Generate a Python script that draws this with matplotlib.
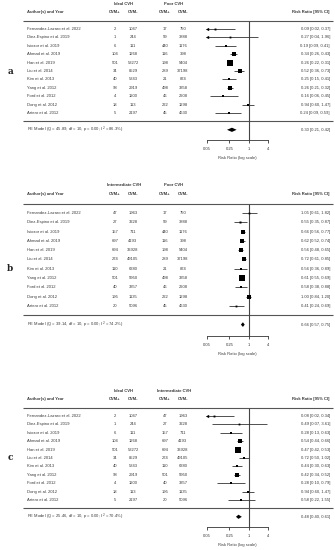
import numpy as np
import matplotlib.pyplot as plt

studies = ["Fernandez-Lazaro et al. 2022", "Diez-Espino et al. 2019", "Isiozor et al. 2019",
           "Ahmad et al. 2019", "Han et al. 2019", "Liu et al. 2014", "Kim et al. 2013",
           "Yang et al. 2012", "Ford et al. 2012", "Dong et al. 2012", "Artero et al. 2012"]

ideal_pos = [2, 1, 6, 104, 501, 34, 40, 98, 4, 18, 5]
ideal_neg = [1047, 244, 111, 1268, 53272, 8529, 5343, 2919, 1200, 113, 2197]
inter_pos = [47, 27, 157, 697, 694, 274, 110, 501, 40, 195, 20]
inter_neg = [1963, 3228, 711, 4193, 33928, 49105, 6380, 5950, 3357, 1135, 5096]
poor_pos = [17, 59, 440, 116, 198, 289, 21, 498, 46, 222, 45]
poor_neg = [750, 3888, 1176, 398, 5404, 37198, 874, 3358, 2208, 1298, 4630]

# ideal vs poor
rr_a = [0.09, 0.27, 0.19, 0.34, 0.26, 0.52, 0.25, 0.26, 0.16, 0.94, 0.24]
lo_a = [0.02, 0.04, 0.09, 0.26, 0.22, 0.36, 0.15, 0.21, 0.06, 0.60, 0.09]
hi_a = [0.37, 1.96, 0.41, 0.43, 0.31, 0.73, 0.41, 0.32, 0.45, 1.47, 0.59]
re_a = [0.30, 0.21, 0.42]
het_a = ["45.89", "86.3"]

# intermediate vs poor
rr_b = [1.05, 0.55, 0.66, 0.62, 0.56, 0.72, 0.56, 0.61, 0.58, 1.00, 0.41]
lo_b = [0.61, 0.35, 0.56, 0.52, 0.48, 0.61, 0.36, 0.55, 0.38, 0.84, 0.24]
hi_b = [1.82, 0.87, 0.77, 0.74, 0.65, 0.85, 0.89, 0.69, 0.88, 1.20, 0.69]
re_b = [0.66, 0.57, 0.75]
het_b = ["39.14", "74.2"]

# ideal vs intermediate
rr_c = [0.08, 0.49, 0.28, 0.54, 0.47, 0.72, 0.44, 0.42, 0.28, 0.94, 0.58]
lo_c = [0.02, 0.07, 0.13, 0.44, 0.42, 0.50, 0.30, 0.34, 0.10, 0.60, 0.22]
hi_c = [0.34, 3.61, 0.63, 0.66, 0.53, 1.02, 0.63, 0.52, 0.79, 1.47, 1.55]
re_c = [0.48, 0.40, 0.61]
het_c = ["25.46", "70.4"]

ticks = [0.05, 0.25, 1, 4]
tick_labels = ["0.05", "0.25", "1", "4"]

panels = [
    ("a", "Ideal CVH", "Poor CVH", ideal_pos, ideal_neg, poor_pos, poor_neg, rr_a, lo_a, hi_a, re_a, het_a, 29, 113, 6),
    ("b", "Intermediate CVH", "Poor CVH", inter_pos, inter_neg, poor_pos, poor_neg, rr_b, lo_b, hi_b, re_b, het_b, 213, 306, 5),
    ("c", "Ideal CVH", "Intermediate CVH", ideal_pos, ideal_neg, inter_pos, inter_neg, rr_c, lo_c, hi_c, re_c, het_c, 416, 500, 6),
]

plt.rcParams["font.family"] = ["Liberation Sans", "DejaVu Sans"]
W, H = 335, 550
fig = plt.figure(figsize=(3.35, 5.5), dpi=100)
fs = 3.0
tc = "#3a3a3a"
ytop, ybot = 14.5, -5.5
xlo, xhi = 0.05, 4

for (lab, g1, g2, p1, n1, p2, n2, rr, lo, hi, re, het, py11, py1, laby) in panels:
    s = (py1 - py11) / 10
    top_px = py11 - (ytop - 11) * s
    bot_px = py1 + (1 - ybot) * s
    pos = [0, 1 - bot_px / H, 1, (bot_px - top_px) / H]
    ax = fig.add_axes(pos)
    ax.set_xlim(0, W)
    ax.set_ylim(ybot, ytop)
    ax.axis("off")

    fx = fig.add_axes([207 / W, pos[1], (268 - 207) / W, pos[3]], sharey=ax)
    fx.set_xscale("log")
    fx.set_xlim(xlo, xhi)
    fx.patch.set_alpha(0)
    for sp in ["top", "right", "left"]:
        fx.spines[sp].set_visible(False)
    fx.spines["bottom"].set_position(("data", -2.2))
    fx.spines["bottom"].set_linewidth(0.6)
    fx.spines["bottom"].set_color("#333333")
    fx.set_yticks([])
    fx.set_xticks(ticks)
    fx.set_xticklabels(tick_labels)
    fx.minorticks_off()
    fx.tick_params(axis="x", length=2.5, width=0.6, pad=2.5, labelsize=fs, colors="#333333")
    fx.set_xlabel("Risk Ratio (log scale)", fontsize=fs, color=tc, labelpad=4)

    # header
    hd = dict(fontsize=fs, color=tc, va="center", fontweight="bold")
    ax.text(27, 13, "Author(s) and Year", ha="left", **hd)
    ax.text(124, 14, g1, ha="center", **hd)
    ax.text(174, 14, g2, ha="center", **hd)
    for xc in [115, 165]:
        ax.text(xc, 13, "CVM+", ha="center", **hd)
    for xc in [133, 183]:
        ax.text(xc, 13, "CVM-", ha="center", **hd)
    ax.text(330, 13, "Risk Ratio [95% CI]", ha="right", **hd)
    ax.hlines([12, 0], 23, 333, color="#555555", lw=0.8)

    fx.vlines(1, -2.2, 12, color="#444444", lw=0.8, zorder=1)

    rr = np.array(rr)
    lo = np.array(lo)
    hi = np.array(hi)
    se = (np.log(hi) - np.log(lo)) / 3.92
    w = 1 / se
    psize = 0.5 + (w - w.min()) / (w.max() - w.min())
    ys = np.arange(11, 0, -1)

    for i, y in enumerate(ys):
        ax.text(27, y, studies[i], fontsize=fs, color=tc, va="center", ha="left")
        ax.text(115, y, str(p1[i]), fontsize=fs, color=tc, va="center", ha="center")
        ax.text(133, y, str(n1[i]), fontsize=fs, color=tc, va="center", ha="center")
        ax.text(165, y, str(p2[i]), fontsize=fs, color=tc, va="center", ha="center")
        ax.text(183, y, str(n2[i]), fontsize=fs, color=tc, va="center", ha="center")
        ax.text(330, y, f"{rr[i]:.2f} [{lo[i]:.2f}, {hi[i]:.2f}]", fontsize=fs, color=tc,
                va="center", ha="right")
        a, b = max(lo[i], xlo), min(hi[i], xhi)
        fx.hlines(y, a, b, color="#333333", lw=0.6, clip_on=False)
        if lo[i] < xlo:
            fx.plot(xlo, y, marker="<", ms=2.4, color="k", mew=0, clip_on=False)
        fx.plot(rr[i], y, marker="s", ms=psize[i] * 2.6, color="k", mew=0, clip_on=False)

    est, rlo, rhi = re
    fx.fill([rlo, est, rhi, est], [-1, -0.75, -1, -1.25], color="k", lw=0)
    ax.text(27, -1, f"RE Model (Q = {het[0]}, df = 10, p = 0.00; $I^2$ = {het[1]}%)",
            fontsize=fs, color=tc, va="center", ha="left")
    ax.text(330, -1, f"{est:.2f} [{rlo:.2f}, {rhi:.2f}]", fontsize=fs, color=tc,
            va="center", ha="right")

    ax.text(10, laby, lab, fontsize=6.5, fontweight="bold", family="DejaVu Serif",
            va="center", ha="center", color="#222222")

fig.savefig("out.png", dpi=100)
